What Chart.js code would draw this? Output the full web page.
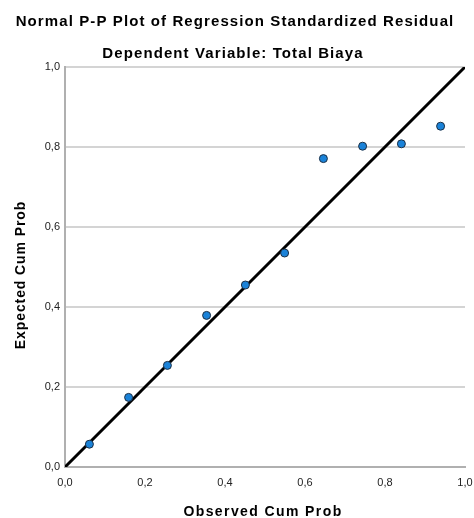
<!DOCTYPE html>
<html>
<head>
<meta charset="utf-8">
<script src="https://cdn.jsdelivr.net/npm/chart.js@4/dist/chart.umd.min.js"></script>
<style>
  html, body { margin: 0; padding: 0; background: #fff; }
  #wrap { width: 474px; height: 518px; }
</style>
</head>
<body>
<div id="wrap"><canvas id="ppChart" width="474" height="518"></canvas></div>
<script>
// observed vs expected cumulative probabilities
const observedCumProb = [0.061, 0.159, 0.256, 0.354, 0.451, 0.549, 0.646, 0.744, 0.841, 0.939];
const expectedCumProb = [0.057, 0.174, 0.254, 0.379, 0.455, 0.535, 0.771, 0.802, 0.808, 0.852];
const refLine = [0, 1];
const tickValues = [0, 0.2, 0.4, 0.6, 0.8, 1.0];

const chartTitle = "Normal P-P Plot of Regression Standardized Residual";
const chartSubtitle = "Dependent Variable: Total Biaya";
const xTitle = "Observed Cum Prob";
const yTitle = "Expected Cum Prob";

const points = observedCumProb.map((x, i) => ({ x: x, y: expectedCumProb[i] }));
const diag = refLine.map((v) => ({ x: v, y: v }));

const fmt = (v) => v.toFixed(1).replace(".", ",");
const font = "'Liberation Sans', Arial, sans-serif";

// SPSS spaces its bold text wider than canvas does, so draw titles by hand
const spacedTitles = {
  id: "spacedTitles",
  afterDraw(chart) {
    const { ctx, chartArea } = chart;
    const cx = (chartArea.left + chartArea.right) / 2;
    ctx.save();
    ctx.fillStyle = "#000";
    ctx.textAlign = "center";
    ctx.textBaseline = "alphabetic";
    ctx.font = `bold 15px ${font}`;
    ctx.letterSpacing = "1.1px";
    ctx.fillText(chartTitle, 235, 25.5);
    ctx.fillText(chartSubtitle, 233, 57.5);
    ctx.font = `bold 14px ${font}`;
    ctx.letterSpacing = "1.4px";
    ctx.fillText(xTitle, cx - 2, 516);
    ctx.letterSpacing = "0.9px";
    ctx.translate(25, 275);
    ctx.rotate(-Math.PI / 2);
    ctx.fillText(yTitle, 0, 0);
    ctx.restore();
  },
};

const ctx = document.getElementById("ppChart").getContext("2d");
new Chart(ctx, {
  type: "scatter",
  data: {
    datasets: [
      {
        type: "line",
        data: diag,
        borderColor: "#000",
        borderWidth: 3,
        pointRadius: 0,
        fill: false,
        order: 2,
      },
      {
        data: points,
        backgroundColor: "#1a82d8",
        borderColor: "#1b2f45",
        borderWidth: 1,
        pointRadius: 4,
        order: 1,
      },
    ],
  },
  options: {
    responsive: false,
    animation: false,
    layout: { padding: { top: 67, right: 9, bottom: 0, left: 0 } },
    plugins: {
      legend: { display: false },
      tooltip: { enabled: false },
    },
    scales: {
      x: {
        type: "linear",
        min: 0,
        max: 1,
        afterBuildTicks: (s) => { s.ticks = tickValues.map((v) => ({ value: v })); },
        afterFit: (s) => {
          s.height = 51;
          s.paddingLeft = 0;
          s.paddingRight = 0;
        },
        grid: { display: false, drawTicks: false },
        border: { color: "#b0b0b0", width: 2 },
        ticks: {
          color: "#222",
          font: { family: font, size: 11 },
          padding: 9,
          maxRotation: 0,
          callback: (v) => fmt(v),
        },
      },
      y: {
        type: "linear",
        min: 0,
        max: 1,
        afterBuildTicks: (s) => { s.ticks = tickValues.map((v) => ({ value: v })); },
        afterFit: (s) => { s.width = 65; },
        grid: {
          color: (c) => (c.tick && c.tick.value === 0 ? "rgba(0,0,0,0)" : "#d4d4d4"),
          lineWidth: 2,
          drawTicks: false,
        },
        border: { color: "#b0b0b0", width: 2 },
        ticks: {
          color: "#222",
          font: { family: font, size: 11 },
          padding: 5,
          callback: (v) => fmt(v),
        },
      },
    },
  },
  plugins: [spacedTitles],
});
</script>
</body>
</html>
